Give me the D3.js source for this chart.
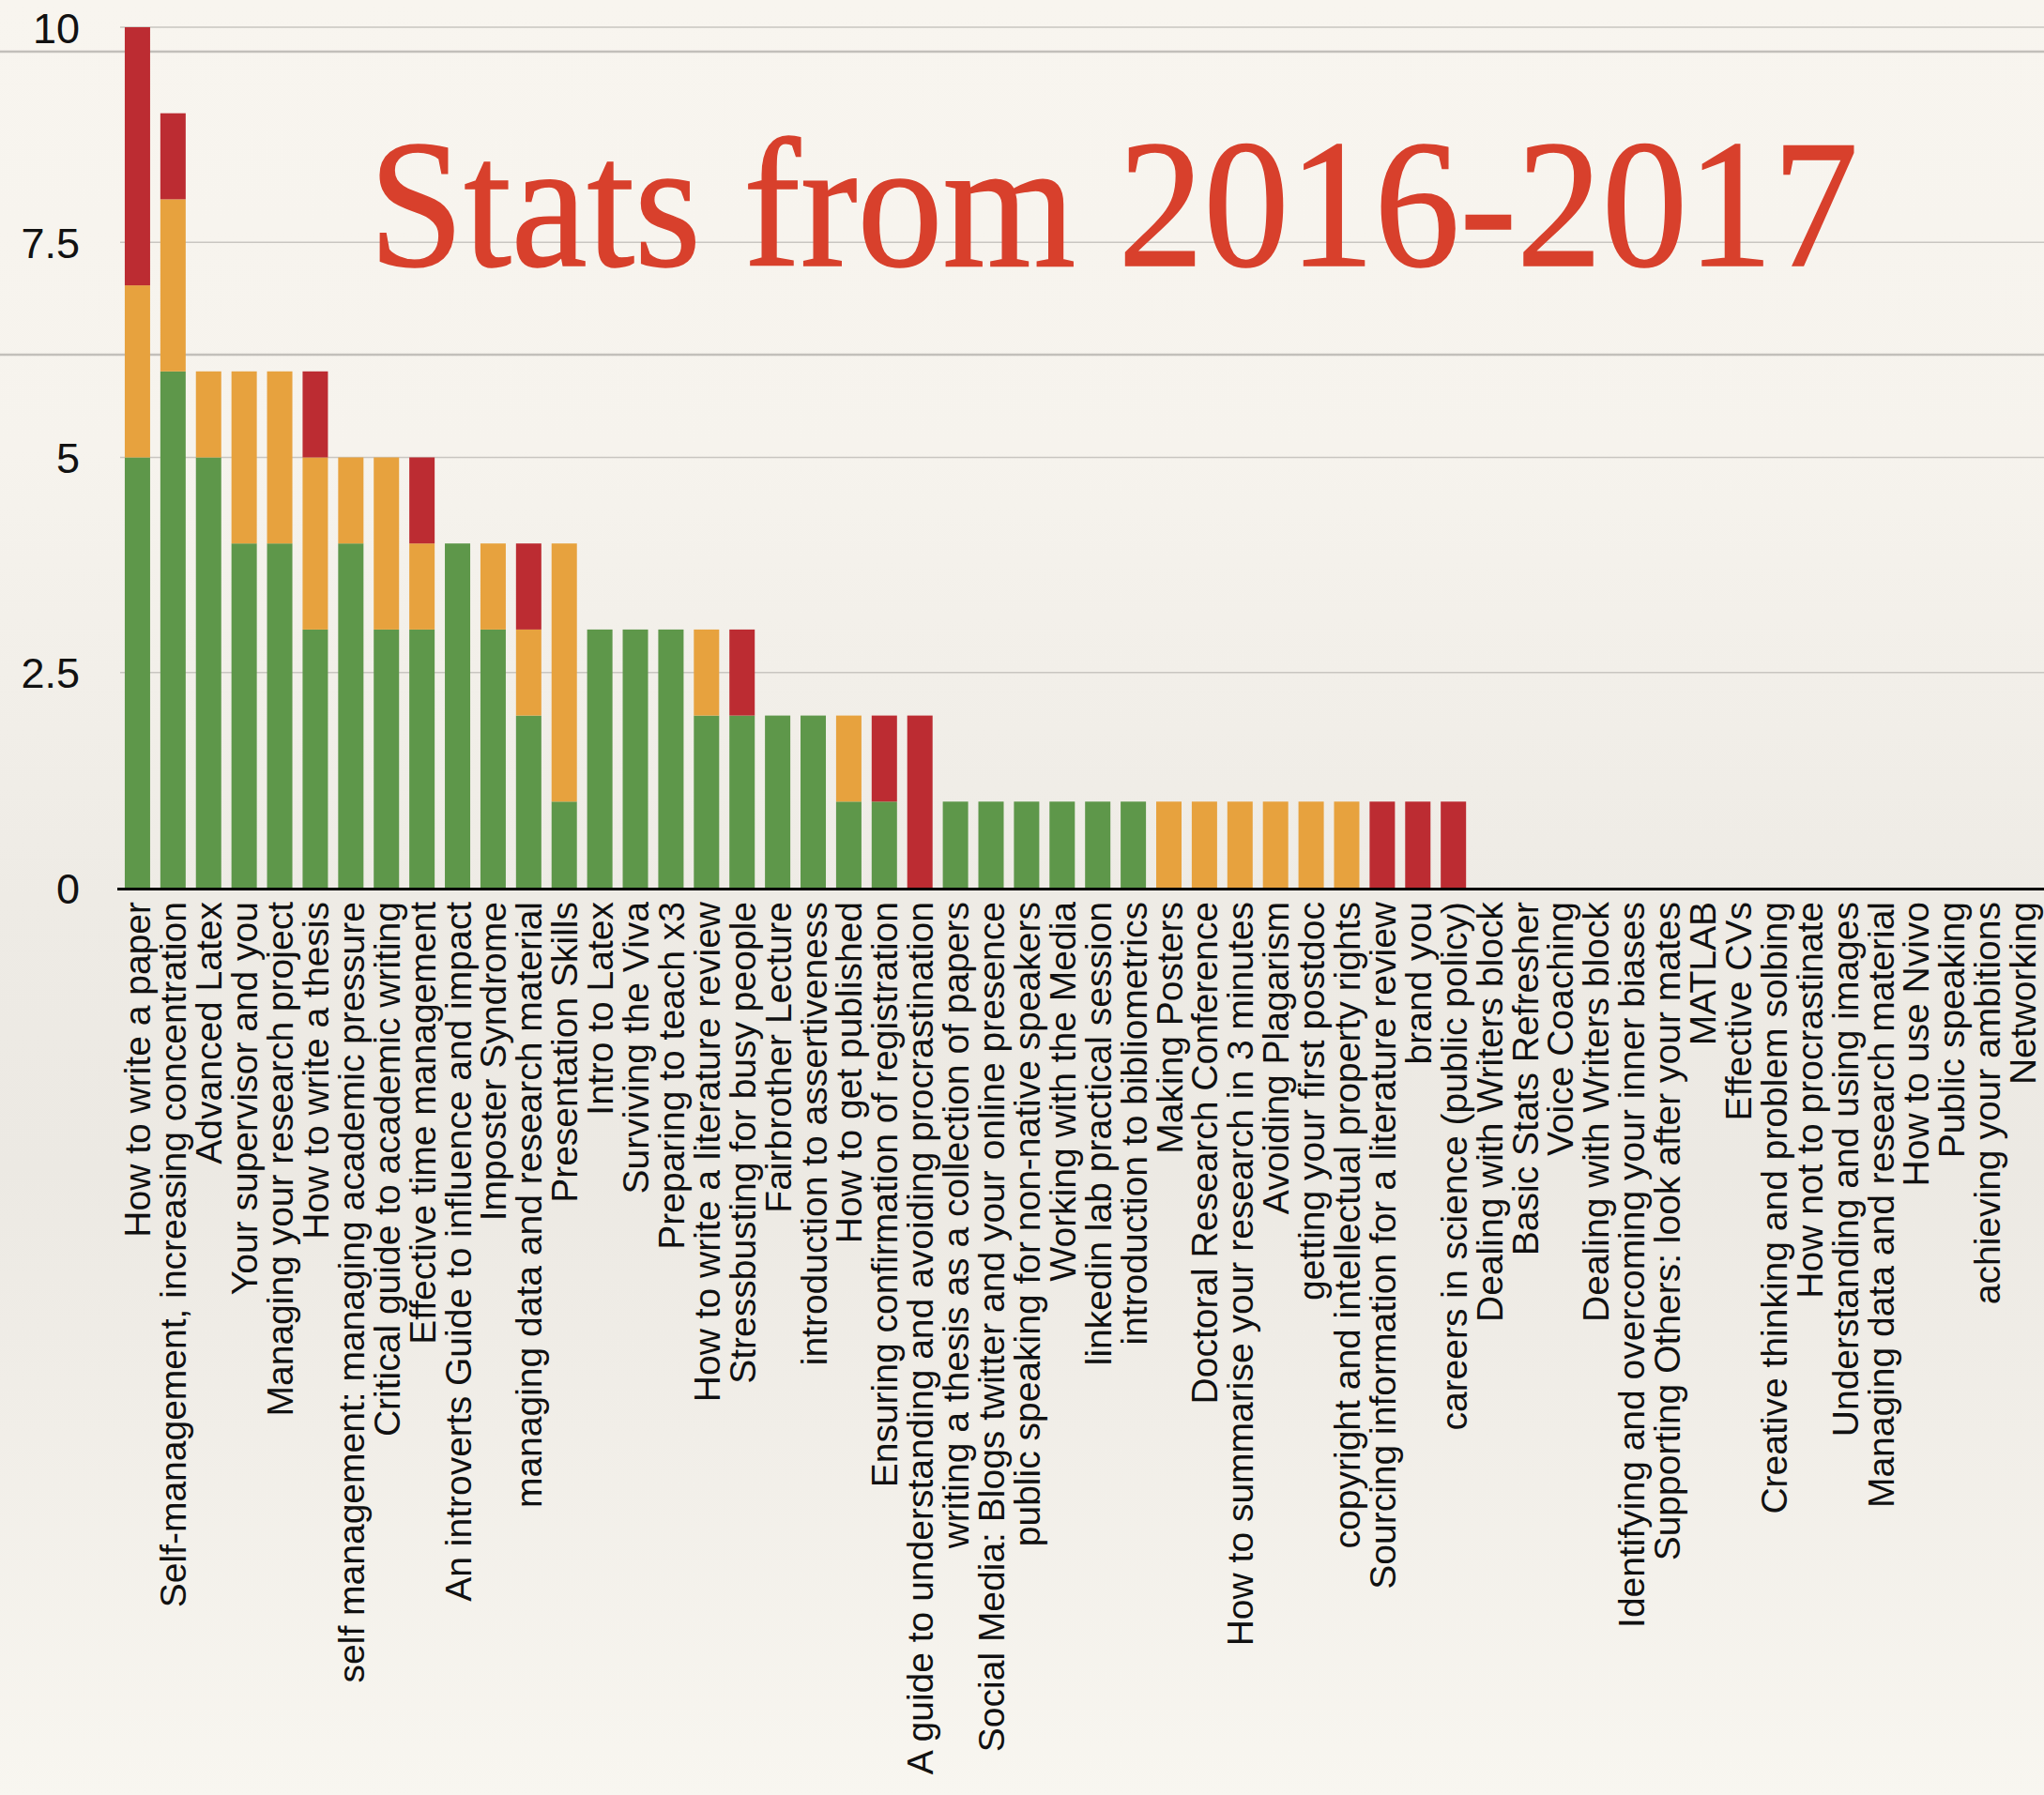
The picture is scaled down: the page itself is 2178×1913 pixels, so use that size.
<!DOCTYPE html>
<html>
<head>
<meta charset="utf-8">
<script src="https://cdn.jsdelivr.net/npm/d3@7"></script>
<style>
  html, body { margin: 0; padding: 0; background: #F5F2EC; }
  svg { display: block; }
</style>
</head>
<body>
<div id="chart"></div>
<script>
// ---------------- DATA ----------------
const categories = [
  "How to write a paper",
  "Self-management, increasing concentration",
  "Advanced Latex",
  "Your supervisor and you",
  "Managing your research project",
  "How to write a thesis",
  "self management: managing academic pressure",
  "Critical guide to academic writing",
  "Effective time management",
  "An introverts Guide to influence and impact",
  "Imposter Syndrome",
  "managing data and research material",
  "Presentation Skills",
  "Intro to Latex",
  "Surviving the Viva",
  "Preparing to teach x3",
  "How to write a literature review",
  "Stressbusting for busy people",
  "Fairbrother Lecture",
  "introduction to assertiveness",
  "How to get published",
  "Ensuring confirmation of registration",
  "A guide to understanding and avoiding procrastination",
  "writing a thesis as a collection of papers",
  "Social Media: Blogs twitter and your online presence",
  "public speaking for non-native speakers",
  "Working with the Media",
  "linkedin lab practical session",
  "introduction to bibliometrics",
  "Making Posters",
  "Doctoral Research Conference",
  "How to summarise your research in 3 minutes",
  "Avoiding Plagarism",
  "getting your first postdoc",
  "copyright and intellectual property rights",
  "Sourcing information for a literature review",
  "brand you",
  "careers in science (public policy)",
  "Dealing with Writers block",
  "Basic Stats Refresher",
  "Voice Coaching",
  "Dealing with Writers block ",
  "Identifying and overcoming your inner biases",
  "Supporting Others: look after your mates",
  "MATLAB",
  "Effective CVs",
  "Creative thinking and problem solbing",
  "How not to procrastinate",
  "Understanding and using images",
  "Managing data and research material",
  "How to use Nvivo",
  "Public speaking",
  "achieving your ambitions",
  "Networking"
];

const greenValues = [5,6,5,4,4,3,4,3,3,4,3,2,1,3,3,3,2,2,2,2,1,1,0,
  1,1,1,1,1,1, 0,0,0,0,0,0, 0,0,0,
  0,0,0,0,0,0,0,0,0,0,0,0,0,0,0,0];
const orangeValues = [2,2,1,2,2,2,1,2,1,0,1,1,3,0,0,0,1,0,0,0,1,0,0,
  0,0,0,0,0,0, 1,1,1,1,1,1, 0,0,0,
  0,0,0,0,0,0,0,0,0,0,0,0,0,0,0,0];
const redValues = [3,1,0,0,0,1,0,0,1,0,0,1,0,0,0,0,0,1,0,0,0,1,2,
  0,0,0,0,0,0, 0,0,0,0,0,0, 1,1,1,
  0,0,0,0,0,0,0,0,0,0,0,0,0,0,0,0];

const seriesKeys = ["green", "orange", "red"];
const seriesColors = ["#5E974A", "#E7A23E", "#BC2C32"];
const yTicks = [0, 2.5, 5, 7.5, 10];
const yTickLabels = ["0", "2.5", "5", "7.5", "10"];
const titleText = "Stats from 2016-2017";

// ---------------- LAYOUT ----------------
const W = 2178, H = 1913;
const svg = d3.select("#chart").append("svg").attr("width", W).attr("height", H);

// background paper gradient
const defs = svg.append("defs");
const grad = defs.append("linearGradient").attr("id", "bg").attr("x1", 0).attr("y1", 0).attr("x2", 0).attr("y2", 1);
[[0, "#F8F5EF"], [0.25, "#F6F3ED"], [0.5, "#EEEBE5"], [0.65, "#ECE9E3"], [0.8, "#F1EEE8"], [1, "#F8F6F0"]]
  .forEach(([o, c]) => grad.append("stop").attr("offset", o).attr("stop-color", c));
svg.append("rect").attr("width", W).attr("height", H).attr("fill", "url(#bg)");

// decorative ruled lines of the slide background
svg.selectAll("line.rule").data([55, 378]).enter().append("line")
  .attr("class", "rule").attr("x1", 0).attr("x2", W).attr("y1", d => d).attr("y2", d => d)
  .attr("stroke", "#C2BFBA").attr("stroke-width", 2.5);

const x = d3.scaleBand().domain(categories).range([127.5, 2174]).paddingInner(0.2876).paddingOuter(0.1438);
const y = d3.scaleLinear().domain([0, 10]).range([946, 29]);

// gridlines
svg.selectAll("line.grid").data(yTicks.filter(d => d > 0)).enter().append("line")
  .attr("class", "grid").attr("x1", 128).attr("x2", W)
  .attr("y1", d => y(d)).attr("y2", d => y(d))
  .attr("stroke", "#C9C6C1").attr("stroke-width", 1.6);

// title
svg.append("text")
  .attr("x", 393).attr("y", 283)
  .attr("font-family", "'Liberation Serif', 'Times New Roman', serif")
  .attr("font-size", 196)
  .attr("fill", "#D8402C")
  .attr("stroke", "#D8402C").attr("stroke-width", 1.5)
  .attr("textLength", 1587)
  .attr("lengthAdjust", "spacingAndGlyphs")
  .text(titleText);

// stacked bars
const rows = categories.map((c, i) => ({ cat: c, green: greenValues[i], orange: orangeValues[i], red: redValues[i] }));
const stacked = d3.stack().keys(seriesKeys)(rows);

svg.append("g").selectAll("g").data(stacked).enter().append("g")
  .attr("fill", (d, i) => seriesColors[i])
  .selectAll("rect").data(d => d.filter(p => p[1] - p[0] > 0)).enter().append("rect")
  .attr("x", d => x(d.data.cat))
  .attr("width", x.bandwidth())
  .attr("y", d => y(d[1]))
  .attr("height", d => y(d[0]) - y(d[1]));

// y axis labels
const yAxis = d3.axisLeft(y).tickValues(yTicks).tickFormat((d, i) => yTickLabels[i]).tickSize(0).tickPadding(0);
const yg = svg.append("g").attr("transform", "translate(85,0)").call(yAxis);
yg.select(".domain").remove();
yg.selectAll("text")
  .attr("font-family", "'Liberation Sans', Arial, Helvetica, sans-serif")
  .attr("font-size", 45).attr("fill", "#111").attr("dy", "0.36em").attr("x", 0);

// x axis
const xAxis = d3.axisBottom(x).tickSize(0).tickPadding(0);
const xg = svg.append("g").attr("transform", "translate(0,946)").call(xAxis);
xg.select(".domain").remove();
xg.selectAll("text")
  .attr("transform", "rotate(-90)")
  .attr("x", -15).attr("y", 0).attr("dy", "0.36em")
  .style("text-anchor", "end")
  .attr("font-family", "'Liberation Sans', Arial, Helvetica, sans-serif")
  .attr("font-size", 39).attr("fill", "#111");

// axis baseline
svg.append("line").attr("x1", 125).attr("x2", W).attr("y1", y(0) + 1.5).attr("y2", y(0) + 1.5)
  .attr("stroke", "#000").attr("stroke-width", 3);
</script>
</body>
</html>
